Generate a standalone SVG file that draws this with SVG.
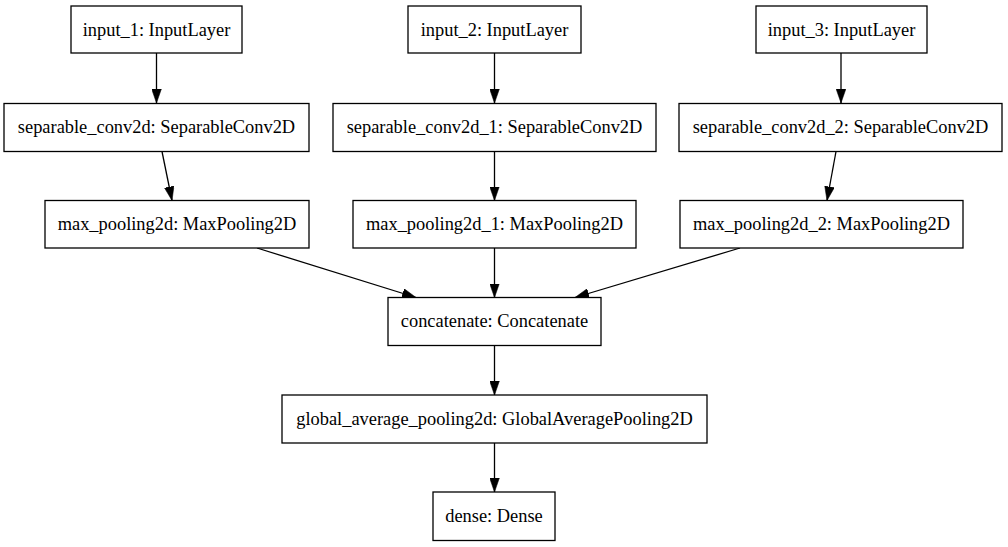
<svg xmlns="http://www.w3.org/2000/svg" width="1008" height="547" viewBox="0 0 1008 547">
<style>
.n rect{fill:#fff;stroke:#000;stroke-width:1.3}
.n text{font-size:18.4px;text-anchor:middle;fill:#000}
.e line{stroke:#000;stroke-width:1.3;fill:none;marker-end:url(#ah)}
</style>
<defs>
<marker id="ah" markerUnits="userSpaceOnUse" markerWidth="14" markerHeight="10" viewBox="0 0 13.5 9.4" refX="13.5" refY="4.7" orient="auto">
<path d="M0,0 L13.5,4.7 L0,9.4 z" fill="#000" stroke="#000" stroke-width="0.5"/>
</marker>
</defs>
<rect width="1008" height="547" fill="#fff"/>
<g id="edges" class="e">
<line x1="156.5" y1="53" x2="156.5" y2="103"/>
<line x1="494.5" y1="53" x2="494.5" y2="103"/>
<line x1="841" y1="53" x2="841" y2="103"/>
<line x1="162" y1="151.5" x2="172" y2="200.5"/>
<line x1="494.5" y1="151.5" x2="494.5" y2="200.5"/>
<line x1="836" y1="151.5" x2="827" y2="200.5"/>
<line x1="257" y1="248" x2="416" y2="297.5"/>
<line x1="494.5" y1="248" x2="494.5" y2="297.5"/>
<line x1="740" y1="248" x2="575" y2="297.5"/>
<line x1="494.5" y1="345.5" x2="494.5" y2="395"/>
<line x1="494.5" y1="443" x2="494.5" y2="492"/>
</g>
<g font-family="Liberation Serif, Times New Roman, Times, serif">
<g id="input_1" class="n"><rect x="71" y="6" width="171" height="47"/><text x="156.5" y="35.5">input_1: InputLayer</text></g>
<g id="input_2" class="n"><rect x="408" y="6" width="173" height="47"/><text x="494.5" y="35.5">input_2: InputLayer</text></g>
<g id="input_3" class="n"><rect x="756" y="6" width="171" height="47"/><text x="841.5" y="35.5">input_3: InputLayer</text></g>
<g id="separable_conv2d" class="n"><rect x="4" y="103.5" width="305" height="48"/><text x="156.5" y="133">separable_conv2d: SeparableConv2D</text></g>
<g id="separable_conv2d_1" class="n"><rect x="333" y="103.5" width="323" height="48"/><text x="494.5" y="133">separable_conv2d_1: SeparableConv2D</text></g>
<g id="separable_conv2d_2" class="n"><rect x="679" y="103.5" width="323" height="48"/><text x="840.5" y="133">separable_conv2d_2: SeparableConv2D</text></g>
<g id="max_pooling2d" class="n"><rect x="45" y="200.5" width="264" height="47.5"/><text x="177" y="230">max_pooling2d: MaxPooling2D</text></g>
<g id="max_pooling2d_1" class="n"><rect x="353" y="200.5" width="283" height="47.5"/><text x="494.5" y="230">max_pooling2d_1: MaxPooling2D</text></g>
<g id="max_pooling2d_2" class="n"><rect x="680" y="200.5" width="283" height="47.5"/><text x="821.5" y="230">max_pooling2d_2: MaxPooling2D</text></g>
<g id="concatenate" class="n"><rect x="388" y="297.5" width="213" height="48"/><text x="494.5" y="327">concatenate: Concatenate</text></g>
<g id="global_average_pooling2d" class="n"><rect x="282" y="395" width="425" height="48"/><text x="494.5" y="424.5">global_average_pooling2d: GlobalAveragePooling2D</text></g>
<g id="dense" class="n"><rect x="433" y="492" width="122" height="48.5"/><text x="494" y="521.5">dense: Dense</text></g>
</g>
</svg>
